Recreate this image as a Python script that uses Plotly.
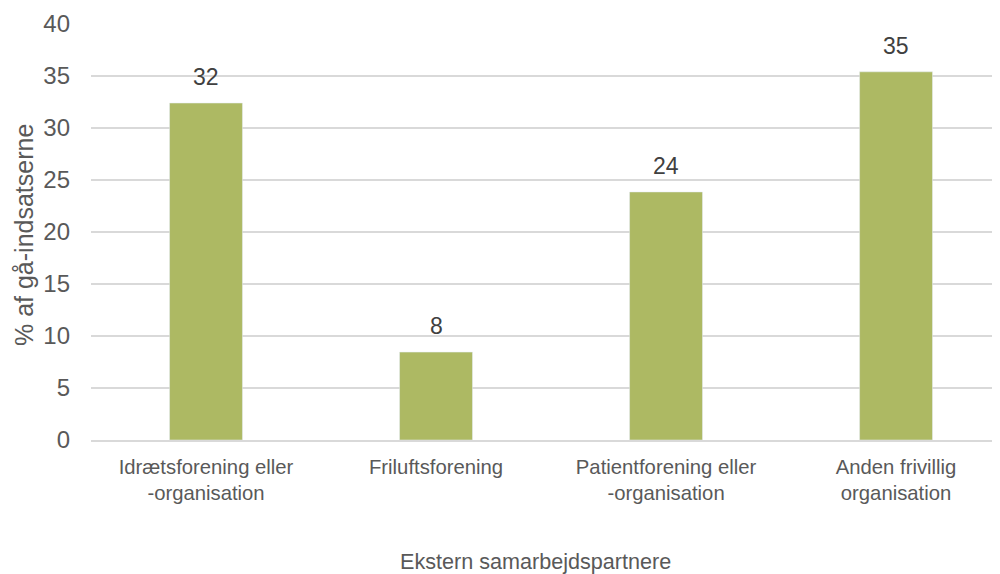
import plotly.graph_objects as go

categories = ["Idrætsforening eller<br>-organisation", "Friluftsforening",
              "Patientforening eller<br>-organisation", "Anden frivillig<br>organisation"]
values = [32.4, 8.45, 23.85, 35.4]
labels = ["32", "8", "24", "35"]
y_ticks = [0, 5, 10, 15, 20, 25, 30, 35, 40]

FONT = "Liberation Sans, Arial"
OFF = 8  # page body margin
W, H = 1000 - OFF, 574 - OFF
L = 91 - OFF
T = 23.5 - OFF
PB = 440 - OFF          # plot bottom in figure px
B = H - PB
pw = W - L

fig = go.Figure()
fig.add_trace(go.Bar(x=categories, y=values, marker_color="#ADB963",
                     width=0.317, hoverinfo="skip"))

for c, v, t in zip(categories, values, labels):
    fig.add_annotation(x=c, y=v, text=t, showarrow=False, yanchor="bottom",
                       yshift=11, font=dict(family=FONT, size=23, color="#404040"))

# axis titles
fig.add_annotation(xref="paper", yref="paper", x=(535 - OFF - L) / pw, y=0,
                   yshift=-((561 - OFF) - PB), borderpad=0,
                   text="Ekstern samarbejdspartnere", showarrow=False,
                   xanchor="center", yanchor="middle",
                   font=dict(family=FONT, size=21.6, color="#595959"))
fig.add_annotation(xref="paper", yref="paper", x=0, xshift=-(L - (24 - OFF)), y=0.5,
                   yshift=-3, borderpad=0,
                   text="% af gå-indsatserne", showarrow=False, textangle=-90,
                   xanchor="center", yanchor="middle",
                   font=dict(family=FONT, size=25, color="#595959"))

fig.update_layout(
    width=W, height=H,
    margin=dict(l=L, r=0, t=T, b=B, autoexpand=False),
    plot_bgcolor="white", paper_bgcolor="white",
    showlegend=False,
    font=dict(family=FONT, size=20, color="#595959"),
    xaxis=dict(
        range=[-0.5, 3.452], automargin=False,
        showgrid=False, showline=True, linecolor="#d9d9d9", linewidth=1.5,
        ticks="", ticklabelstandoff=8, tickfont=dict(size=20.3, color="#595959"),
    ),
    yaxis=dict(
        range=[0, 40], tickvals=y_ticks, automargin=False,
        showgrid=True, gridcolor="#d9d9d9", gridwidth=1.5,
        zeroline=False, showline=False,
        ticks="", ticklabelstandoff=20,
        tickfont=dict(size=24, color="#595959"),
    ),
)

fig.write_html("out.html")
